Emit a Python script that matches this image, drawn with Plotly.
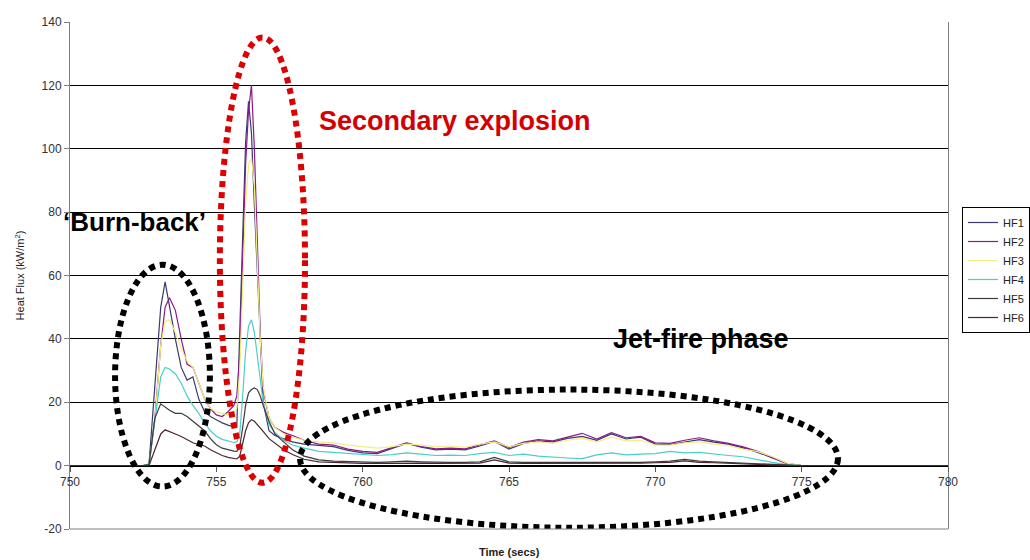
import plotly.graph_objects as go

# ---------------- data ----------------
time_s = [750, 752.5, 752.7, 752.9, 753.1, 753.25, 753.4, 753.6, 753.8, 754.0, 754.2,
          754.4, 754.6, 754.8, 755.0, 755.2, 755.4, 755.6, 755.7, 755.8, 755.9, 756.0,
          756.1, 756.2, 756.3, 756.4, 756.5, 756.6, 756.8, 757.0, 757.3, 757.6, 758.0,
          758.5, 759, 759.5, 760, 760.5, 761, 761.5, 762, 762.5, 763, 763.5, 764,
          764.5, 765, 765.5, 766, 766.5, 767, 767.5, 768, 768.5, 769, 769.5, 770,
          770.5, 771, 771.5, 772, 772.5, 773, 773.5, 774, 774.5, 775, 780]

hf1 = [0, 0, 0.5, 25, 50, 58, 50, 40, 31, 27, 28, 21, 17, 15.5, 14.5, 13.5, 12.8, 12.2,
       12.5, 45, 75, 102, 115, 105, 82, 62, 38, 20, 11, 9.5, 8.5, 7.5, 6.8,
       6.3, 6.0, 4.8, 4.0, 3.8, 5.5, 7.0, 5.8, 5.0, 5.2, 5.0, 6.2, 7.6, 5.2, 7.0, 7.8,
       7.5, 8.6, 9.2, 8.0, 10.0, 8.4, 9.0, 6.8, 6.6, 7.4, 8.2, 7.4, 6.8, 5.6, 4.2, 2.4,
       0.6, 0, 0]
hf2 = [0, 0, 0.3, 15, 38, 50, 53, 49, 40, 32, 31, 26, 21, 18, 16, 15.5, 17, 19, 22, 35,
       65, 95, 112, 120, 100, 68, 42, 24, 15, 12, 10.5, 9.5, 8,
       6.8, 6.5, 5.2, 4.5, 4.2, 5.8, 7.2, 6.0, 5.3, 5.5, 5.3, 6.6, 7.8, 5.8, 7.4, 8.2,
       7.8, 9.0, 10.2, 8.4, 10.4, 8.8, 9.2, 7.2, 7.0, 8.0, 8.8, 7.8, 7.0, 5.9, 4.5, 2.6,
       0.7, 0, 0]
hf3 = [0, 0, 0.3, 14, 38, 45.5, 46, 42, 37, 33, 31, 26, 21, 18, 17, 16.5, 16, 17, 18, 30,
       55, 82, 95, 97, 88, 65, 40, 25, 15, 12, 10, 9, 8,
       7.5, 7.2, 6.5, 6.0, 5.5, 6.0, 6.8, 6.5, 6.0, 6.2, 5.8, 6.8, 7.5, 6.0, 7.0, 7.5,
       7.0, 8.0, 8.6, 7.5, 9.0, 7.8, 8.0, 6.5, 6.5, 7.2, 7.6, 6.8, 6.2, 5.2, 4.4, 2.8,
       0.8, 0, 0]
hf4 = [0, 0, 0.5, 15, 28, 31, 30.5, 29, 26, 22, 19, 16.5, 13.5, 11, 9.3, 8.3, 7.8, 7.3,
       7.5, 10, 22, 36, 44, 46, 42, 34, 26, 20, 13, 10.5, 8, 6.5, 5.5,
       4.5, 4.2, 3.8, 3.4, 3.2, 3.5, 4.0, 3.6, 3.2, 3.3, 3.2, 3.8, 4.2, 3.2, 3.6, 3.0,
       2.6, 2.4, 2.2, 3.4, 4.0, 3.4, 3.6, 3.8, 4.5, 4.0, 4.2, 3.6, 3.2, 2.8, 1.8, 1.0,
       0.3, 0, 0]
hf5 = [0, 0, 0.3, 15, 19.5, 18.5, 17.5, 16.5, 16.5, 15.5, 14, 12.5, 11, 8.5, 6.6, 5.5,
       5, 4.6, 4.5, 6, 12, 19, 23, 24, 24.5, 24, 22, 19, 14, 10, 7.5, 5, 3,
       1.8, 1.4, 1.2, 1.0, 1.0, 1.2, 1.4, 1.2, 1.0, 1.0, 1.0, 1.2, 2.6, 1.2, 1.0, 1.0,
       0.8, 0.8, 0.8, 1.0, 1.0, 1.0, 1.0, 1.2, 1.4, 2.0, 1.4, 1.2, 1.0, 0.8, 0.6, 0.3,
       0.1, 0, 0]
hf6 = [0, 0, 0, 5, 10, 11.3, 10.8, 10, 9.2, 8.2, 7.2, 6.6, 6.2, 5, 4, 3.2, 2.6, 2.2,
       2.1, 3, 7, 11, 13.5, 14.5, 14, 13, 12, 10.8, 8.5, 7, 5, 3.5, 2,
       1.2, 1.0, 0.8, 0.7, 0.7, 0.8, 0.9, 0.8, 0.7, 0.7, 0.7, 0.8, 1.8, 0.8, 0.7, 0.7,
       0.6, 0.6, 0.6, 0.7, 0.7, 0.7, 0.8, 0.9, 1.0, 1.5, 1.0, 0.9, 0.7, 0.6, 0.4, 0.2,
       0.05, 0, 0]

series_names = ["HF1", "HF2", "HF3", "HF4", "HF5", "HF6"]
series_values = [hf1, hf2, hf3, hf4, hf5, hf6]
series_colors = ["#3a3a70", "#8a1a8a", "#f2ee80", "#4ccccc", "#3c3c3c", "#4a2632"]

x_ticks = [750, 755, 760, 765, 770, 775, 780]
y_ticks = [-20, 0, 20, 40, 60, 80, 100, 120, 140]
y_tick_text = ["-20", "0", "20", "40", "60", "80", "100", "120", "140"]

# annotation regions (time range, flux range)
burn_box = (751.54, 754.78, -6.6, 63.4)
expl_box = (755.12, 758.03, -5.4, 135.1)
jet_box = (757.86, 776.24, -19.6, 24.0)

FONT = "Liberation Sans, Arial, sans-serif"

fig = go.Figure()
for name, vals, col in zip(series_names, series_values, series_colors):
    fig.add_trace(go.Scatter(x=time_s, y=vals, name=name, mode="lines",
                             line=dict(color=col, width=1.2)))

dots = "6px,5px"
for (x0, x1, y0, y1), col in [(burn_box, "#000000"), (expl_box, "#dd0000"), (jet_box, "#000000")]:
    fig.add_shape(type="circle", xref="x", yref="y", x0=x0, x1=x1, y0=y0, y1=y1,
                  line=dict(color=col, width=6, dash=dots))

# plot-area border (bottom)
fig.add_shape(type="line", xref="paper", yref="paper", x0=0, x1=1, y0=0, y1=0,
              line=dict(color="#808080", width=1))

fig.add_annotation(x=763.15, y=108.9, xref="x", yref="y", text="<b>Secondary explosion</b>",
                   showarrow=False, font=dict(family=FONT, size=27, color="#d40000"))
fig.add_annotation(x=771.56, y=40.1, xref="x", yref="y", text="<b>Jet-fire phase</b>",
                   showarrow=False, font=dict(family=FONT, size=27, color="#000000"))
fig.add_annotation(x=752.2, y=77.0, xref="x", yref="y", text="<b>‘Burn-back’</b>",
                   showarrow=False, font=dict(family=FONT, size=26, color="#000000"))
fig.add_annotation(x=0.5, y=-0.045, xref="paper", yref="paper", text="<b>Time (secs)</b>",
                   showarrow=False, yanchor="middle",
                   font=dict(family=FONT, size=11, color="#222222"))

fig.update_layout(
    width=1030, height=560,
    margin=dict(l=70, r=82, t=22, b=31, autoexpand=False),
    paper_bgcolor="white", plot_bgcolor="white",
    font=dict(family=FONT, size=12, color="#333333"),
    showlegend=True,
    legend=dict(xref="container", yref="container", x=962 / 1030, y=1 - 207 / 560,
                xanchor="left", yanchor="top",
                bordercolor="#000000", borderwidth=1, bgcolor="white",
                font=dict(family=FONT, size=11, color="#222222"), tracegroupgap=0),
    xaxis=dict(range=[750, 780], tickvals=x_ticks, ticktext=[str(v) for v in x_ticks],
               showgrid=False, zeroline=False, showline=True, linecolor="#000000",
               linewidth=1, ticks="outside", ticklen=5, tickcolor="#555555",
               anchor="free", position=0.125, automargin=False,
               tickfont=dict(family=FONT, size=12, color="#333333")),
    yaxis=dict(range=[-20, 140], tickvals=y_ticks, ticktext=y_tick_text,
               showgrid=True, gridcolor="#000000", automargin=False,
               gridwidth=1, zeroline=False, showline=True, linecolor="#808080",
               mirror=True, ticks="outside", ticklen=5, tickcolor="#808080",
               tickfont=dict(family=FONT, size=12, color="#333333"),
               title=dict(text="Heat Flux (kW/m<sup>2</sup>)", standoff=14,
                          font=dict(family=FONT, size=11, color="#222222"))),
)

fig.write_html("out.html")
